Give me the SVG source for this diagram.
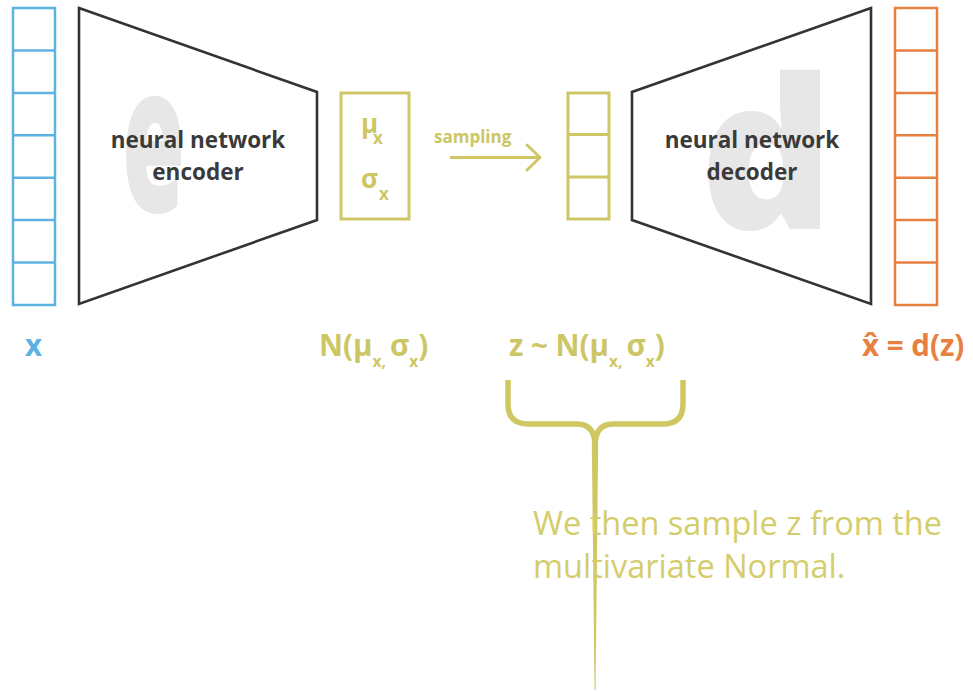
<svg xmlns="http://www.w3.org/2000/svg" width="973" height="692" viewBox="0 0 973 692">
  <style>
    .bold { font-family: "Open Sans", "Liberation Sans", sans-serif; font-weight: bold; }
    .ghost { font-family: "Open Sans", "Liberation Sans", sans-serif; font-weight: 800; fill: #e7e7e7; }
    .net { fill: #ffffff; stroke: #333333; stroke-width: 2.6; stroke-linejoin: miter; }
    .netlabel { font-size: 22.5px; fill: #3a3a3a; text-anchor: middle; }
    .blue { fill: none; stroke: #5cb3e2; stroke-width: 2.5; }
    .orange { fill: none; stroke: #e8803f; stroke-width: 2.5; }
    .yellow { fill: none; stroke: #cfc766; stroke-width: 3; }
    .ytext { fill: #cdc664; }
    .label { font-size: 29.5px; }
    .note { font-family: "Open Sans", "Liberation Sans", sans-serif; font-size: 32.5px; fill: #d4cd6c; }
  </style>

  <rect width="973" height="692" fill="#ffffff"/>

  <!-- input vector x -->
  <g id="input-x">
    <rect class="blue" x="13" y="8" width="42" height="297"/>
    <path class="blue" d="M13,50.4H55M13,92.9H55M13,135.3H55M13,177.7H55M13,220.1H55M13,262.6H55"/>
  </g>

  <!-- encoder -->
  <g id="encoder">
    <polygon class="net" points="79,8 317,92 317,220 79,304"/>
    <text class="ghost" font-size="205" transform="translate(122,212) scale(0.5,1)">e</text>
    <text class="bold netlabel" x="198" y="148">neural network</text>
    <text class="bold netlabel" x="198" y="180">encoder</text>
  </g>

  <!-- distribution parameters -->
  <g id="params">
    <rect class="yellow" x="341" y="93" width="68" height="126"/>
    <text class="bold ytext" x="361" y="133" font-size="26">μ</text>
    <text class="bold ytext" x="373" y="144" font-size="17">x</text>
    <text class="bold ytext" x="361" y="188" font-size="26">σ</text>
    <text class="bold ytext" x="379" y="200" font-size="17">x</text>
  </g>

  <!-- sampled latent vector z -->
  <g id="latent-z">
    <rect class="yellow" x="568" y="93" width="41" height="126"/>
    <path class="yellow" d="M568,134.5H609M568,177H609"/>
  </g>

  <!-- decoder -->
  <g id="decoder">
    <polygon class="net" points="871,8 632,92 632,220 871,304"/>
    <text class="ghost" font-size="210" transform="translate(700,229) scale(0.99,1)">d</text>
    <text class="bold netlabel" x="752" y="148">neural network</text>
    <text class="bold netlabel" x="752" y="180">decoder</text>
  </g>

  <!-- reconstruction -->
  <g id="output-xhat">
    <rect class="orange" x="895" y="8" width="42" height="297"/>
    <path class="orange" d="M895,50.4H937M895,92.9H937M895,135.3H937M895,177.7H937M895,220.1H937M895,262.6H937"/>
  </g>

  <!-- connectors -->
  <g id="connectors">
    <text class="bold ytext" x="434" y="143" font-size="17">sampling</text>
    <path class="yellow" d="M450,157.5H540" stroke-width="2.8"/>
    <path class="yellow" d="M527,145L540,157.5L527,170" stroke-width="2.8" stroke-linecap="round" stroke-linejoin="round"/>
  </g>

  <!-- labels under the blocks -->
  <g id="labels">
    <text class="bold label" x="25" y="356" fill="#5cb3e2">x</text>
    <text class="bold label ytext" x="319" y="356">N(μ<tspan font-size="15.5" dy="11">x, </tspan><tspan dy="-11">σ</tspan><tspan font-size="15.5" dy="11">x</tspan><tspan dy="-11">)</tspan></text>
    <text class="bold label ytext" x="509" y="356">z ~ N(μ<tspan font-size="15.5" dy="11">x, </tspan><tspan dy="-11">σ</tspan><tspan font-size="15.5" dy="11">x</tspan><tspan dy="-11">)</tspan></text>
    <text class="bold label" x="862" y="356" fill="#e8803f">x̂ = d(z)</text>
  </g>

  <!-- brace with callout -->
  <g id="callout">
    <path d="M508,380V404Q508,424 528,424H577Q595,424 595,446M683,380V404Q683,424 663,424H613Q595,424 595,446" fill="none" stroke="#cfc762" stroke-width="5.5"/>
    <polygon points="591.8,444 598.2,444 595.6,690 594.6,690" fill="#cfc762"/>
    <text class="note" x="533" y="535">We then sample z from the</text>
    <text class="note" x="533" y="578">multivariate Normal.</text>
  </g>
</svg>
